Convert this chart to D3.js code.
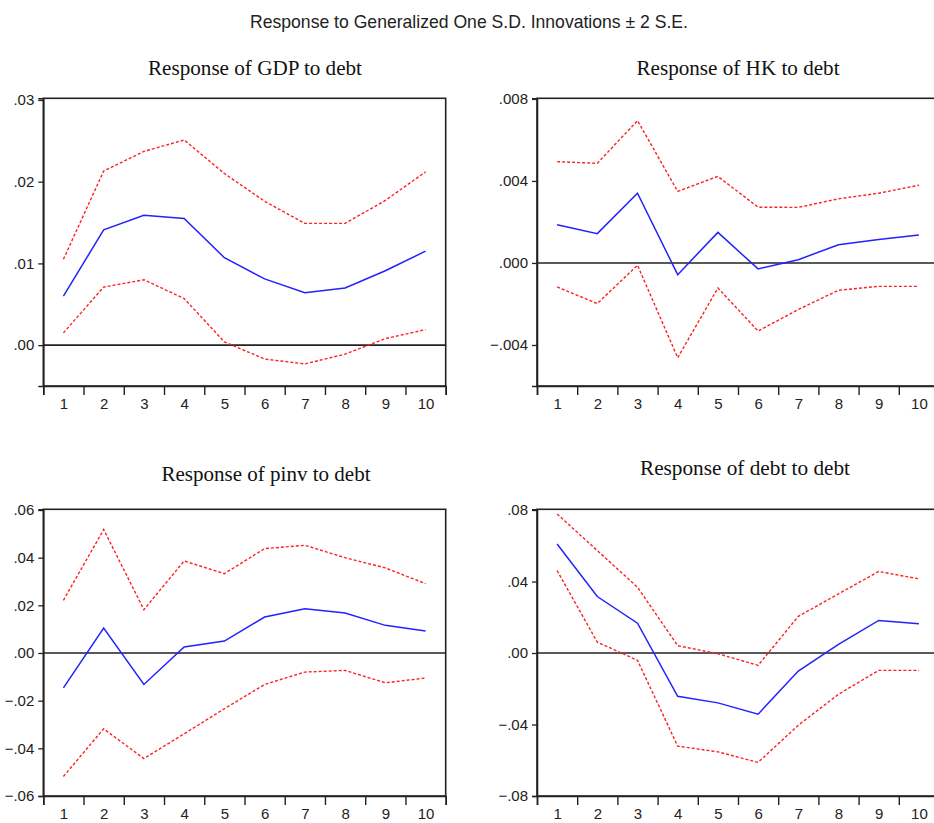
<!DOCTYPE html>
<html><head><meta charset="utf-8">
<script src="https://cdn.jsdelivr.net/npm/d3@7"></script>
<style>
body{margin:0;background:#fff;}
svg{display:block;}
</style></head>
<body>
<svg id="c" width="934" height="823"></svg>
<script>
// ---- data ----
const periods = [1,2,3,4,5,6,7,8,9,10];
const mainTitle = "Response to Generalized One S.D. Innovations \u00B1 2 S.E.";
const panelTitles = ["Response of GDP to debt","Response of HK to debt","Response of pinv to debt","Response of debt to debt"];

const gdpResp  = [0.0060,0.0141,0.0159,0.0155,0.0107,0.0081,0.0064,0.0070,0.0091,0.0115];
const gdpUpper = [0.0105,0.0213,0.0237,0.0251,0.0210,0.0176,0.0149,0.0149,0.0177,0.0212];
const gdpLower = [0.0015,0.0071,0.0080,0.0057,0.0004,-0.0017,-0.0023,-0.0011,0.0008,0.0019];
const gdpTicks = [0.00,0.01,0.02,0.03];
const gdpDomain = [-0.005,0.0302];

const hkResp  = [0.00186,0.00143,0.00340,-0.00057,0.00149,-0.00029,0.00016,0.00089,0.00114,0.00136];
const hkUpper = [0.00494,0.00486,0.00694,0.00349,0.00422,0.00272,0.00271,0.00313,0.00340,0.00379];
const hkLower = [-0.00117,-0.00198,-0.00011,-0.00462,-0.00122,-0.00332,-0.00227,-0.00133,-0.00114,-0.00114];
const hkTicks = [-0.004,0.000,0.004,0.008];
const hkDomain = [-0.006,0.00803];

const pinvResp  = [-0.0146,0.0105,-0.0132,0.0025,0.0050,0.0151,0.0186,0.0168,0.0116,0.0092];
const pinvUpper = [0.0221,0.0518,0.0182,0.0386,0.0333,0.0438,0.0452,0.0400,0.0357,0.0291];
const pinvLower = [-0.0518,-0.0318,-0.0443,-0.0339,-0.0234,-0.0132,-0.0080,-0.0073,-0.0125,-0.0105];
const pinvTicks = [-0.06,-0.04,-0.02,0.00,0.02,0.04,0.06];
const pinvDomain = [-0.06,0.0603];

const debtResp  = [0.0610,0.0316,0.0167,-0.0242,-0.0279,-0.0342,-0.0101,0.0048,0.0182,0.0164];
const debtUpper = [0.0778,0.0573,0.0368,0.0041,-0.0004,-0.0069,0.0205,0.0331,0.0456,0.0415];
const debtLower = [0.0461,0.0061,-0.0041,-0.0521,-0.0553,-0.0612,-0.0404,-0.0231,-0.0097,-0.0097];
const debtTicks = [-0.08,-0.04,0.00,0.04,0.08];
const debtDomain = [-0.08,0.0804];

// ---- drawing ----
const svg = d3.select("#c");
const narrow = "'Liberation Sans Narrow','Arial Narrow','Liberation Sans',Arial,sans-serif";
const serif = "'Liberation Serif','Times New Roman',serif";

svg.append("text").attr("x",469).attr("y",28).attr("text-anchor","middle")
  .attr("font-family",narrow).attr("font-size",19).attr("fill","#222")
  .attr("textLength",438).attr("lengthAdjust","spacingAndGlyphs").text(mainTitle);

const panels = [
  {title:panelTitles[0], tx:255, ty:75, tw:214, l:43.3, r:445.7, t:98.3, b:386, resp:gdpResp, up:gdpUpper, lo:gdpLower, ticks:gdpTicks, dom:gdpDomain, fmt:".2f"},
  {title:panelTitles[1], tx:738, ty:75, tw:203, l:537, r:939, t:98.3, b:386, resp:hkResp, up:hkUpper, lo:hkLower, ticks:hkTicks, dom:hkDomain, fmt:".3f"},
  {title:panelTitles[2], tx:266, ty:481, tw:209, l:43.3, r:445.7, t:509.3, b:796, resp:pinvResp, up:pinvUpper, lo:pinvLower, ticks:pinvTicks, dom:pinvDomain, fmt:".2f"},
  {title:panelTitles[3], tx:745, ty:475, tw:210, l:537, r:939, t:509.3, b:796, resp:debtResp, up:debtUpper, lo:debtLower, ticks:debtTicks, dom:debtDomain, fmt:".2f"}
];

panels.forEach(p => {
  const g = svg.append("g");
  g.append("text").attr("x",p.tx).attr("y",p.ty).attr("text-anchor","middle")
    .attr("font-family",serif).attr("font-size",21).attr("fill","#111")
    .attr("textLength",p.tw).attr("lengthAdjust","spacingAndGlyphs").text(p.title);

  const x = d3.scaleLinear().domain([0.5,10.5]).range([p.l,p.r]);
  const y = d3.scaleLinear().domain(p.dom).range([p.b,p.t]);
  const f = d3.format(p.fmt);
  const fmt = v => f(v).replace("0.",".");

  // frame
  g.append("rect").attr("x",p.l).attr("y",p.t).attr("width",p.r-p.l).attr("height",p.b-p.t)
    .attr("fill","none").attr("stroke","#222").attr("stroke-width",1.6);

  // y axis
  const ya = g.append("g").attr("transform",`translate(${p.l},0)`)
    .call(d3.axisLeft(y).tickValues(p.ticks).tickSize(5).tickPadding(4).tickFormat(fmt));
  ya.select(".domain").attr("stroke","#222").attr("stroke-width",1.6);
  ya.selectAll(".tick line").attr("stroke","#222").attr("stroke-width",1.3);
  ya.selectAll("text").attr("font-family",narrow).attr("font-size",15).attr("fill","#222");

  // x axis ticks at boundaries
  const xt = g.append("g").attr("transform",`translate(0,${p.b})`)
    .call(d3.axisBottom(x).tickValues(d3.range(0.5,11,1)).tickSize(9).tickFormat(""));
  xt.select(".domain").attr("stroke","#222").attr("stroke-width",1.6);
  xt.selectAll(".tick line").attr("stroke","#222").attr("stroke-width",1.4);
  // x labels
  const xl = g.append("g").attr("transform",`translate(0,${p.b})`)
    .call(d3.axisBottom(x).tickValues(periods).tickSize(0).tickPadding(12).tickFormat(d3.format("d")));
  xl.select(".domain").remove();
  xl.selectAll("text").attr("font-family",narrow).attr("font-size",15).attr("fill","#222");

  // zero line
  g.append("line").attr("x1",p.l).attr("x2",p.r).attr("y1",y(0)).attr("y2",y(0))
    .attr("stroke","#222").attr("stroke-width",1.6);

  const line = d3.line().x((d,i)=>x(periods[i])).y(d=>y(d));
  g.append("path").datum(p.up).attr("d",line).attr("fill","none")
    .attr("stroke","#ff2020").attr("stroke-width",1.4).attr("stroke-dasharray","3,2");
  g.append("path").datum(p.lo).attr("d",line).attr("fill","none")
    .attr("stroke","#ff2020").attr("stroke-width",1.4).attr("stroke-dasharray","3,2");
  g.append("path").datum(p.resp).attr("d",line).attr("fill","none")
    .attr("stroke","#2222ff").attr("stroke-width",1.5);
});
</script>
</body></html>
